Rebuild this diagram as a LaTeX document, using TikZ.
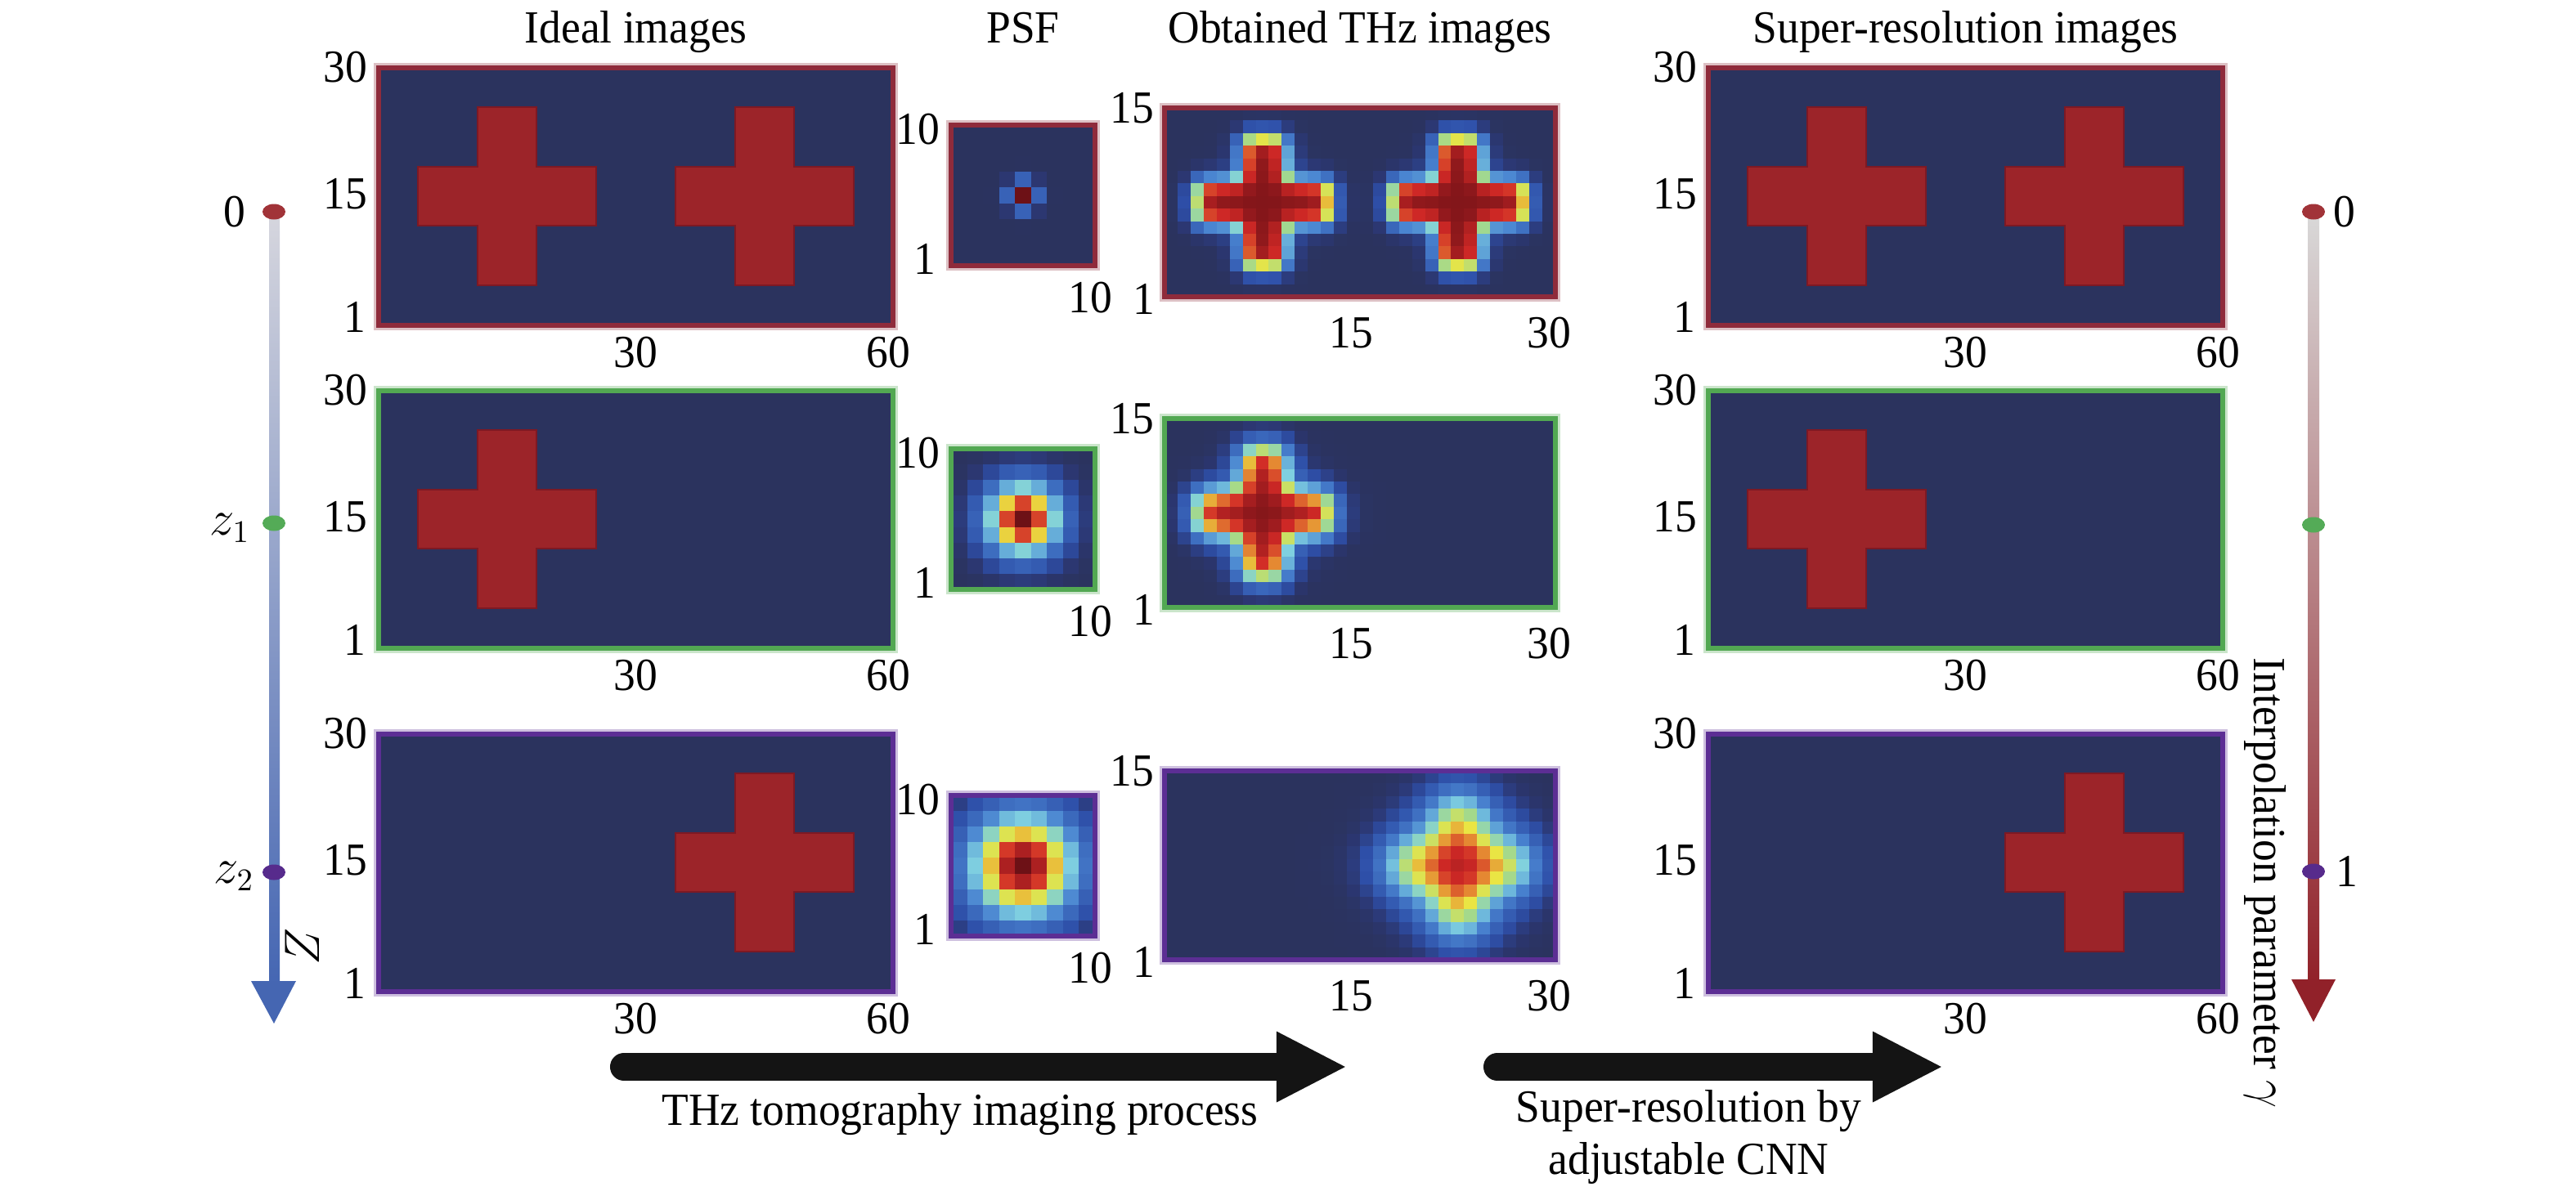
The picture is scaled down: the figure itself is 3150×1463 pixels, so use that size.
\documentclass[tikz,border=0pt]{standalone}
\usepackage{fontspec}
\setmainfont{Liberation Serif}[FakeStretch=0.95]
\usepackage{tikz}
\usetikzlibrary{
    arrows.meta,
    positioning,
    shapes.geometric
}

\definecolor{navy}{rgb}{0.17,0.20,0.37}
\definecolor{crossred}{rgb}{0.61,0.14,0.16}
\definecolor{crossedge}{rgb}{0.49,0.10,0.14}
\definecolor{framered}{rgb}{0.56,0.17,0.23}
\definecolor{framegreen}{rgb}{0.32,0.66,0.32}
\definecolor{framepurple}{rgb}{0.36,0.18,0.58}
\definecolor{dotred}{rgb}{0.63,0.20,0.22}
\definecolor{dotgreen}{rgb}{0.33,0.67,0.34}
\definecolor{dotpurple}{rgb}{0.34,0.17,0.55}
\definecolor{zblue}{rgb}{0.27,0.40,0.70}
\definecolor{zmid}{rgb}{0.63,0.67,0.80}
\definecolor{zgray}{rgb}{0.84,0.84,0.87}
\definecolor{gred}{rgb}{0.57,0.13,0.16}
\definecolor{gmid}{rgb}{0.73,0.57,0.60}
\definecolor{ggray}{rgb}{0.85,0.85,0.85}

% colour map of the PSF and THz images
\def\heatstops{0/.17/.20/.37,.015/.17/.21/.43,.07/.18/.31/.66,.25/.29/.52/.82,.40/.50/.82/.88,.50/.64/.85/.55,.62/.92/.90/.26,.72/.90/.55/.20,.83/.82/.16/.15,.93/.62/.11/.12,1.01/.40/.06/.08}
\newcommand\setheat[1]{%
    \pgfmathsetmacro\hmV{min(max(#1,0),1)}%
    \foreach \kv/\kr/\kg/\kb [remember=\kv as \lmv (initially 0),
        remember=\kr as \lmr (initially .17), remember=\kg as \lmg (initially .20),
        remember=\kb as \lmb (initially .37)] in \heatstops {%
        \ifdim\hmV pt<\kv pt\relax\ifdim\hmV pt<\lmv pt\relax\else
            \pgfmathsetmacro\hmT{(\hmV-\lmv)/(\kv-\lmv)}%
            \pgfmathsetmacro\hmR{\lmr+\hmT*(\kr-\lmr)}%
            \pgfmathsetmacro\hmG{\lmg+\hmT*(\kg-\lmg)}%
            \pgfmathsetmacro\hmB{\lmb+\hmT*(\kb-\lmb)}%
            \xdef\hmRGB{\hmR,\hmG,\hmB}%
        \fi\fi}%
    \definecolor{heat}{rgb}{\hmRGB}}

% blurred cross
\def\sig{1}
\pgfmathdeclarefunction{lgs}{1}{\pgfmathparse{1/(1+exp(-1.702*max(min(#1,5),-5)))}}
\pgfmathdeclarefunction{band}{3}{\pgfmathparse{lgs((#1-#2+#3)/\sig)-lgs((#1-#2-#3)/\sig)}}
\pgfmathdeclarefunction{crs}{3}{\pgfmathparse{band(#1,#3,5.2)*band(#2,7.5,1.65)+band(#1,#3,1.65)*(band(#2,7.5,5.2)-band(#2,7.5,1.65))}}

\newcommand\psfimage[2]{%
    \begin{scope}[shift={(#1.north west)}]
        \foreach \i in {0,...,8}{\foreach \j in {0,...,8}{
            \setheat{exp(max(-9,-((\i-4)*(\i-4)+(\j-4)*(\j-4))/(2*#2*#2)))}
            \fill[heat] (\i*19.56,\j*19.11) rectangle ++(20,19.6);
        }}
    \end{scope}}
\newcommand\thzimage[3]{%
    \def\sig{#2}%
    \begin{scope}[shift={(#1.north west)}]
        \foreach \i in {0,...,29}{\foreach \j in {0,...,14}{
            \setheat{0.97*(#3)}
            \fill[heat] (\i*15.93,\j*15.4) rectangle ++(16.4,15.9);
        }}
    \end{scope}}

\tikzset{
    panel/.style={
        rectangle,
        fill=navy,
        inner sep=0pt,
        outer sep=0pt,
        anchor=north west
    },
    bigpanel/.style={panel, minimum width=6.29cm, minimum height=3.15cm},
    psfpanel/.style={panel, minimum width=1.76cm, minimum height=1.72cm},
    thzpanel/.style={panel, minimum width=4.78cm, minimum height=2.31cm},
    frame/.style={draw=#1, line width=1.7pt},
    halo/.style={draw=#1!30, line width=0.8pt},
    tick/.style={inner sep=0pt},
    title/.style={inner sep=0pt, anchor=base},
    dot/.style={
        ellipse,
        inner sep=0pt,
        minimum width=2.8mm,
        minimum height=1.9mm
    },
    flow/.style={
        -{Triangle[length=8.6mm, width=8mm]},
        line width=3.4mm,
        line cap=round,
        draw=black!92
    },
    plus/.pic={
        \filldraw[fill=crossred, draw=crossedge, line width=0.5pt]
            (-109,-36) -- (-36,-36) -- (-36,-109) -- (36,-109) -- (36,-36) -- (109,-36)
            -- (109,36) -- (36,36) -- (36,109) -- (-36,109) -- (-36,36) -- (-109,36) -- cycle;
    }
}

\begin{document}
\begin{tikzpicture}[x=0.01cm, y=-0.01cm, font=\fontsize{16}{18}\selectfont]
\useasboundingbox (0,0) rectangle (3150,1463);

\foreach \r/\t/\p/\h in {1/83/153/132, 2/478/549/512, 3/898/973/943}{
    \node[bigpanel] (ideal\r) at (463,\t) {};
    \node[psfpanel] (psf\r) at (1163,\p) {};
    \node[thzpanel] (thz\r) at (1424,\h) {};
    \node[bigpanel] (sr\r) at (2089,\t) {};
}

\foreach \n in {ideal,sr}{
    \path (\n1.north west) ++(157,157) pic {plus} ++(315,0) pic {plus};
    \path (\n2.north west) ++(157,157) pic {plus};
    \path (\n3.north west) ++(472,157) pic {plus};
}

\psfimage{psf1}{0.5}
\psfimage{psf2}{1.5}
\psfimage{psf3}{2.2}
\thzimage{thz1}{0.6}{crs(\i+0.5,\j+0.5,7.6)+crs(\i+0.5,\j+0.5,22.6)}
\thzimage{thz2}{0.85}{crs(\i+0.5,\j+0.5,7.6)}
\thzimage{thz3}{1.6}{crs(\i+0.5,\j+0.5,22.6)}

\foreach \r/\c in {1/framered, 2/framegreen, 3/framepurple}{
    \foreach \n in {ideal,psf,thz,sr}{
        \draw[halo=\c] ([shift={(-0.45mm,0.45mm)}]\n\r.north west) rectangle ([shift={(0.45mm,-0.45mm)}]\n\r.south east);
        \draw[frame=\c] (\n\r.north west) rectangle (\n\r.south east);
    }
}

% axis numbers
\foreach \n in {ideal1,ideal2,ideal3,sr1,sr2,sr3}{
    \node[tick, anchor=east] (\n-y30) at ([xshift=-1.3mm, yshift=0.1mm]\n.north west) {30};
    \node[tick, anchor=east] (\n-y15) at ([xshift=-1.3mm, yshift=-15.4mm]\n.north west) {15};
    \node[tick, anchor=east] (\n-y1) at ([xshift=-1.5mm, yshift=1mm]\n.south west) {1};
    \node[tick] (\n-x30) at ([xshift=31.4mm, yshift=-3.3mm]\n.south west) {30};
    \node[tick] (\n-x60) at ([xshift=62.3mm, yshift=-3.3mm]\n.south west) {60};
}
\foreach \n in {psf1,psf2,psf3}{
    \node[tick, anchor=east] (\n-y10) at ([xshift=-1.3mm, yshift=-0.5mm]\n.north west) {10};
    \node[tick, anchor=east] (\n-y1) at ([xshift=-1.8mm, yshift=0.8mm]\n.south west) {1};
    \node[tick] (\n-x10) at ([xshift=17mm, yshift=-3.9mm]\n.south west) {10};
}
\foreach \n in {thz1,thz2,thz3}{
    \node[tick, anchor=east] (\n-y15) at ([xshift=-1.2mm]\n.north west) {15};
    \node[tick, anchor=east] (\n-y1) at ([xshift=-1.1mm, yshift=-0.3mm]\n.south west) {1};
    \node[tick] (\n-x15) at ([xshift=22.8mm, yshift=-4.4mm]\n.south west) {15};
    \node[tick] (\n-x30) at ([xshift=47mm, yshift=-4.4mm]\n.south west) {30};
}

\coordinate (ttl) at (0,52);
\node[title] (tideal) at (ideal1.north |- ttl) {Ideal images};
\node[title] (tpsf) at (psf1.north |- ttl) {PSF};
\node[title] (tthz) at (thz1.north |- ttl) {Obtained THz images};
\node[title] (tsr) at (sr1.north |- ttl) {Super-resolution images};

% depth axis
\shade[top color=zgray, middle color=zmid, bottom color=zblue] (329,259) rectangle (342,1204);
\fill[zblue] (307,1200) -- (362,1200) -- (335,1252) -- cycle;
\node[dot, fill=dotred] (zzero) at (335,259) {};
\node[dot, fill=dotgreen] (zone) at (335,640) {};
\node[dot, fill=dotpurple] (ztwo) at (335,1067) {};
\node[tick, left=1.9mm of zzero] (zzerolab) {0};
\node[tick, left=1.4mm of zone, yshift=-0.6mm] (zonelab) {$z_1$};
\node[tick, left=0.9mm of ztwo, yshift=-0.5mm] (ztwolab) {$z_2$};
\node[tick, rotate=90] (zlab) at (370,1158) {$Z$};

% interpolation axis
\shade[top color=ggray, middle color=gmid, bottom color=gred] (2822,259) rectangle (2836,1202);
\fill[gred] (2802,1198) -- (2856,1198) -- (2829,1250) -- cycle;
\node[dot, fill=dotred] (gzero) at (2829,259) {};
\node[dot, fill=dotgreen] (gmidd) at (2829,642) {};
\node[dot, fill=dotpurple] (gone) at (2829,1066) {};
\node[tick, right=0.9mm of gzero] (gzerolab) {0};
\node[tick, right=1.2mm of gone] (gonelab) {1};
\node[tick, rotate=-90] (gamlab) at (2770,1080) {Interpolation parameter $\gamma$};

% processing arrows
\coordinate (imgS) at (763,1305);
\coordinate (imgE) at (1647,1305);
\coordinate (cnnS) at (1831,1305);
\coordinate (cnnE) at (2376,1305);
\draw[flow] (imgS) -- (imgE);
\draw[flow] (cnnS) -- (cnnE);
\node[tick, anchor=base] (imgtxt) at (1174,1376) {THz tomography imaging process};
\node[tick, align=center, anchor=north] (cnntxt) at (2065,1333) {Super-resolution by\\adjustable CNN};
\end{tikzpicture}
\end{document}
